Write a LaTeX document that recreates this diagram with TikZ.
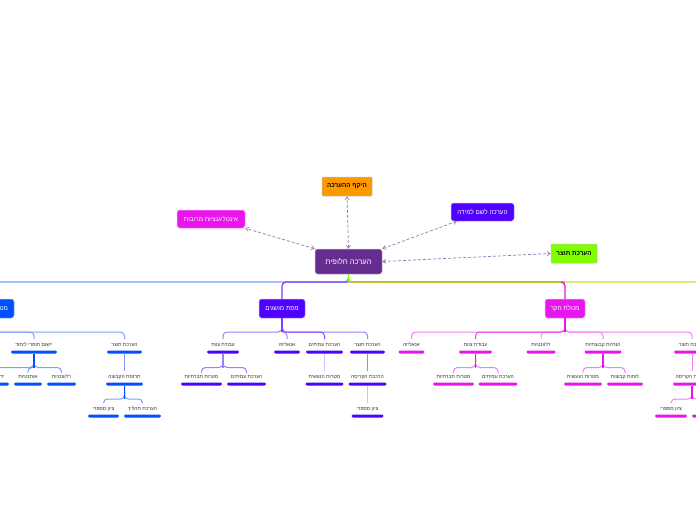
\documentclass[tikz,border=0pt]{standalone}
\usepackage{fontspec}
\usetikzlibrary{arrows.meta}
\TeXXeTstate=1
\newfontfamily\hebfont[Script=Hebrew]{Liberation Sans}
\definecolor{cblue}{HTML}{0050FF}
\definecolor{cviolet}{HTML}{5000FF}
\definecolor{cmag}{HTML}{E815EF}
\definecolor{cpurple}{HTML}{662D91}
\definecolor{corange}{HTML}{FF9900}
\definecolor{clime}{HTML}{80FF00}
\definecolor{colive}{HTML}{BDC030}
\definecolor{clime2}{HTML}{C2E235}
\definecolor{lblue}{HTML}{7AA0FF}
\definecolor{lviolet}{HTML}{A07CFF}
\definecolor{lmag}{HTML}{F07FF5}
\tikzset{
  x=1pt,y=-1pt,
  bar/.style={fill=#1,draw=none,rounded corners=1.4pt,minimum height=3pt,inner sep=0pt,outer sep=0pt},
  lab/.style={inner sep=0pt,outer sep=0pt,minimum height=12pt,text=black!80,font=\hebfont\fontsize{5}{5}\selectfont},
  link/.style={draw=#1,line width=1pt,rounded corners=4pt},
  top link/.style={draw=#1,line width=1.3pt,rounded corners=4pt},
  trunk/.style={draw=#1,line width=1.2pt},
  dashlink/.style={draw=cpurple!65,line width=0.7pt,dashed,dash pattern=on 3pt off 2pt,{Straight Barb[length=3pt,width=4pt]}-{Straight Barb[length=3pt,width=4pt]}},
  boxa/.style={fill=#1,draw=#1!35,line width=0.5pt,rounded corners=2.5pt,inner sep=0pt,text=white,font=\hebfont\fontsize{6.3}{6.3}\selectfont},
  boxb/.style={fill=#1,draw=black!25,line width=0.5pt,rounded corners=0.8pt,inner sep=0pt,text=black,font=\hebfont\bfseries\fontsize{6.3}{6.3}\selectfont},
}
% name, centre x, bar width, bar y, colour, text
\newcommand{\entry}[6]{%
  \node[bar=#5,minimum width=#3pt] (#1) at (#2,#4) {};
  \node[lab] (#1t) at (#2,#4-7) {#6};}
\newcommand{\conn}[4]{\draw[link=#4] (#1.south) -- (#1.south |- 0,#3) -| (#2t.north);}
\newcommand{\straight}[3]{\draw[link=#3] (#1.south) -- (#2t.north);}
\begin{document}
\begin{tikzpicture}
\useasboundingbox (0,0) rectangle (696,520);
\clip (0,0) rectangle (696,520);
\fill[white] (0,0) rectangle (696,520);

% central and satellites
\node[boxa=cpurple,minimum width=67pt,minimum height=25pt,font=\hebfont\fontsize{7.5}{7.5}\selectfont] (main) at (348.5,261.5) {\beginR הערכה חלופית\endR};
\node[boxb=corange,minimum width=50pt,minimum height=19pt] (scope) at (347,186.5) {\beginR היקף ההערכה\endR};
\node[boxa=cmag,minimum width=68pt,minimum height=18pt] (multi) at (211,219) {\beginR אינטליגנציות מרובות\endR};
\node[boxa=cviolet,minimum width=63pt,minimum height=18pt] (learn) at (482.5,212) {\beginR הערכה לשם למידה\endR};
\node[boxb=clime,minimum width=46pt,minimum height=19pt] (prod) at (574,253.5) {\beginR הערכת תוצר\endR};

\draw[dashlink] (main.north west) -- (multi.south east);
\draw[dashlink] (main.north) -- (scope.south);
\draw[dashlink] (main.north east) -- ([xshift=6pt]learn.south west);
\draw[dashlink] (main.east) -- (prod.west);

% branches
\node[boxa=cblue,minimum width=44pt,minimum height=19pt] (bl) at (-8,308.5) {\beginR מטלת ביצוע\endR};
\node[boxa=cviolet,minimum width=46pt,minimum height=19pt] (bm) at (282,308.5) {\beginR מפת מושגים\endR};
\node[boxa=cmag,minimum width=40pt,minimum height=19pt] (br) at (565,308.5) {\beginR מטלת חקר\endR};
\coordinate (off) at (780,300);

\draw[top link=clime2] (main.south) -- (main.south |- 0,282) -| (off);
\draw[top link=colive] (main.south |- 0,282) -- (br.north |- 0,282);
\draw[top link=lblue] (main.south) -- (main.south |- 0,282) -| (bl.north);
\draw[top link=cviolet!75] (main.south |- 0,282) -| (bm.north);
\draw[top link=cmag] (br.north |- 0,282) ++(-4,0) -- ++(4,0) -- (br.north);
\draw[trunk=clime] (main.south) -- (main.south |- 0,282);

% left branch
\entry{la}{124.5}{35}{352}{cblue}{\beginR הערכת תוצר\endR}
\entry{lb}{34}{46}{352}{cblue}{\beginR יישום חומרי לימוד\endR}
\entry{laa}{124.5}{37}{384}{cblue}{\beginR תרומת הקבוצה\endR}
\entry{laaa}{142.5}{37}{416}{cblue}{\beginR הערכת תהליך\endR}
\entry{laab}{103.5}{31}{416}{cblue}{\beginR ציון מספרי\endR}
\entry{lba}{61.5}{29}{384}{cblue}{\beginR רלוונטיות\endR}
\entry{lbb}{28}{28}{384}{cblue}{\beginR אותנטיות\endR}
\entry{lbc}{-5}{28}{384}{cblue}{\beginR ידע קודם\endR}
\conn{bl}{la}{332}{lblue}
\conn{bl}{lb}{332}{lblue}
\straight{la}{laa}{lblue}
\conn{laa}{laaa}{399}{lblue}
\conn{laa}{laab}{399}{lblue}
\conn{lb}{lba}{367.5}{lblue}
\conn{lb}{lbb}{367.5}{lblue}
\conn{lb}{lbc}{367.5}{lblue}
\draw[trunk=cblue] (lb.south) -- (lb.south |- 0,367.5);
\draw[trunk=cblue] (laa.south) -- (laa.south |- 0,399);

% middle branch
\entry{ma}{367.5}{35}{352}{cviolet}{\beginR הערכת תוצר\endR}
\entry{mb}{324.5}{37}{352}{cviolet}{\beginR הערכת עמיתים\endR}
\entry{mc}{287}{26}{352}{cviolet}{\beginR אנאליזה\endR}
\entry{md}{223}{32}{352}{cviolet}{\beginR עבודת צוות\endR}
\entry{maa}{367.5}{38}{384}{cviolet}{\beginR הרכבת הקריסה\endR}
\entry{maaa}{367.5}{32}{416}{cviolet}{\beginR ציון מספרי\endR}
\entry{mba}{324.5}{38}{384}{cviolet}{\beginR מטרות הנעשית\endR}
\entry{mda}{246.5}{39}{384}{cviolet}{\beginR הערכת עמיתים\endR}
\entry{mdb}{201.5}{41}{384}{cviolet}{\beginR מטרות חברתיות\endR}
\conn{bm}{ma}{332}{lviolet}
\conn{bm}{mb}{332}{cviolet!70}
\conn{bm}{mc}{332}{lviolet}
\conn{bm}{md}{332}{lviolet}
\draw[trunk=cviolet!75] (bm.south) -- (bm.south |- 0,332);
\straight{ma}{maa}{lviolet}
\straight{maa}{maaa}{cviolet!25}
\straight{mb}{mba}{cviolet!25}
\conn{md}{mda}{367.5}{lviolet}
\conn{md}{mdb}{367.5}{lviolet}
\draw[trunk=lviolet] (md.south) -- (md.south |- 0,367.5);

% right branch
\entry{ra}{692}{36}{352}{cmag}{\beginR הערכת תוצר\endR}
\entry{rb}{603}{37}{352}{cmag}{\beginR הנחיות קבוצתיות\endR}
\entry{rc}{541}{29}{352}{cmag}{\beginR רלוונטיות\endR}
\entry{rd}{475.5}{33}{352}{cmag}{\beginR עבודת צוות\endR}
\entry{re}{411.5}{26}{352}{cmag}{\beginR אנאליזה\endR}
\entry{raa}{692}{38}{384}{cmag}{\beginR הרכבת הקריסה\endR}
\entry{raaa}{711}{38}{416}{cmag}{\beginR הערכת תהליך\endR}
\entry{raab}{671}{32}{416}{cmag}{\beginR ציון מספרי\endR}
\entry{rba}{625}{36}{384}{cmag}{\beginR לוחות קבוצות\endR}
\entry{rbb}{583}{38}{384}{cmag}{\beginR מטרות הנעשית\endR}
\entry{rda}{498}{39}{384}{cmag}{\beginR הערכת עמיתים\endR}
\entry{rdb}{453.5}{41}{384}{cmag}{\beginR מטרות חברתיות\endR}
\conn{br}{ra}{332}{lmag}
\conn{br}{re}{332}{lmag}
\conn{br}{rb}{332}{lmag}
\conn{br}{rc}{332}{cmag!45}
\conn{br}{rd}{332}{cmag!80}
\draw[trunk=cmag] (br.south) -- (br.south |- 0,332);
\straight{ra}{raa}{lmag}
\conn{raa}{raaa}{399}{lmag}
\conn{raa}{raab}{399}{lmag}
\conn{rb}{rba}{367.5}{lmag}
\conn{rb}{rbb}{367.5}{lmag}
\conn{rd}{rda}{367.5}{lmag}
\conn{rd}{rdb}{367.5}{lmag}
\draw[trunk=cmag] (rd.south) -- (rd.south |- 0,367.5);
\draw[trunk=cmag] (rb.south) -- (rb.south |- 0,367.5);
\draw[trunk=cmag] (raa.south) -- (raa.south |- 0,399);
\end{tikzpicture}
\end{document}
